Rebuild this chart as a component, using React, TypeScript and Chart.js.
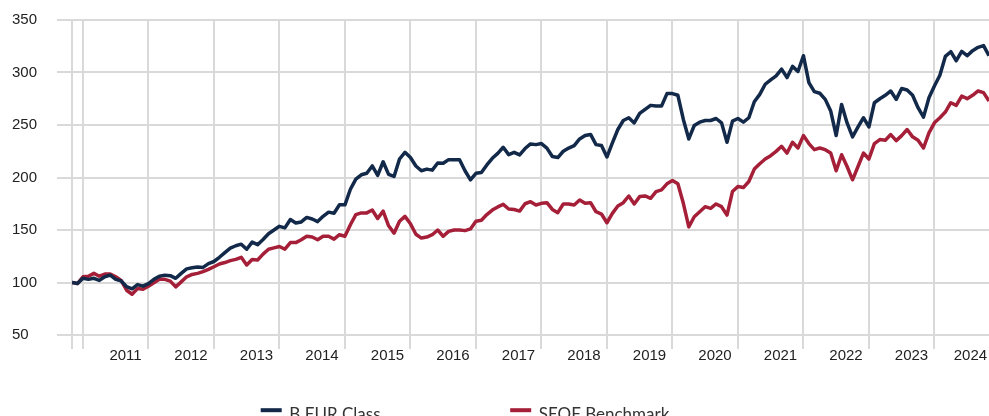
import React, { useEffect, useRef } from "react";
import { Chart, registerables } from "chart.js";

Chart.register(...registerables);

// Year labels on the x axis (gridline at January of each year)
const years = ["2011", "2012", "2013", "2014", "2015", "2016", "2017", "2018", "2019", "2020", "2021", "2022", "2023", "2024"];

// Y axis ticks
const yTicks = [50, 100, 150, 200, 250, 300, 350];

// Monthly values, Nov 2010 -> Nov 2024 (rebased to 100)
const bEurClass = [
  100, 99, 104, 103, 104, 102, 105.5, 107, 103, 101.5, 96, 94, 98, 96.5, 99, 103, 106, 107, 106.5, 104,
  108.7, 113, 114, 114.7, 114.4, 118, 120, 124, 128.5, 132.7, 135, 136.5, 131.7, 138.5, 136, 141, 146.5, 150, 153.5, 152,
  160, 156.7, 157.7, 162, 160.5, 158, 163, 167, 166, 174, 174, 188.8, 198.4, 202.6, 204, 211, 202, 215, 203, 201,
  217.6, 224, 219, 211, 206.4, 208, 207, 213.8, 213.5, 217, 217, 217, 206.4, 197.8, 204, 204.8, 212, 218.3, 223, 228.8,
  221.8, 224, 221.5, 227.6, 232, 231.3, 232.3, 228, 220, 219, 225, 228, 230.4, 236.7, 240, 241, 231.3, 230.4, 219.5, 232.9,
  245.7, 254.3, 256.9, 252, 261, 264.9, 268.7, 268, 268, 279.9, 279.9, 278.3, 255.3, 236.7, 249.5, 252.7, 254.3, 254.3, 256.2, 252,
  233.5, 253.7, 256.2, 252.7, 256.9, 272.2, 279.2, 288.8, 293, 296.8, 303.2, 295.2, 305.8, 301, 316, 290.4, 281.8, 280.2, 274.4, 263.3,
  240, 269.6, 252, 238.7, 248.2, 256.9, 248.2, 271.2, 275, 278.3, 282.4, 274.4, 284.7, 283.4, 278.3, 266.5, 257.5, 276, 287.2, 297.4,
  315.3, 319.8, 311.2, 320.1, 316, 320.8, 324, 325.6, 316,
];

const seofBenchmark = [
  100, 99, 105.4, 106, 108.7, 106, 108, 108, 105.4, 102, 92.6, 88.8, 94.2, 93.6, 96.5, 99.7, 103, 103, 101.3, 95.8,
  100.6, 105.4, 107.7, 108.7, 110.3, 112.5, 115, 117.6, 119, 120.8, 122, 124, 116.7, 122, 121.5, 127, 131.7, 133, 134.3, 131.7,
  138, 138, 140.7, 144, 143.3, 140.7, 144, 144, 141.3, 145.5, 144, 155, 164.7, 166.3, 166.3, 169, 161, 168, 154, 147,
  158.3, 163, 156, 146, 142.3, 143.3, 145.5, 150, 144, 148.7, 150, 150, 149.4, 151, 158.3, 159.3, 164.7, 169, 172, 174.4,
  170, 169.5, 168, 175, 177, 173.8, 175.4, 176, 169.6, 166.5, 174.8, 174.8, 173.8, 178.6, 175.4, 176, 167.4, 165.2, 156.9, 165.8,
  172.8, 176, 182.4, 174.8, 181.8, 182.4, 180.2, 186.6, 188.2, 194, 197.1, 194, 175.4, 153, 162.6, 167.4, 172.2, 170.6, 174.8, 172.2,
  164.2, 186.6, 191.4, 190.4, 196.2, 208, 213.1, 217.6, 220.8, 224.9, 229.7, 223.3, 233.5, 228.1, 239.9, 232.3, 226.5, 228.1, 226.5, 223.3,
  206.4, 221.7, 210.5, 197.8, 210.5, 223.3, 217.6, 232.3, 236.1, 235.5, 240.9, 235.1, 239.9, 245.7, 238.7, 235.5, 228.1, 242.5, 252.1, 256.9,
  262.3, 271.2, 268.7, 277.6, 275.1, 278.3, 282.4, 280.8, 272.8,
];

const seriesNames = ["B EUR Class", "SEOF Benchmark"];
const seriesColors = ["#12294a", "#a51f38"];

const GRID = "#d9d9d9";
const TEXT = "#222222";

const legendPlugin = {
  id: "bottomLegend",
  afterDraw(chart: any, _args: any, opts: any) {
    const ctx = chart.ctx;
    ctx.save();
    chart.data.datasets.forEach((ds: any, i: number) => {
      const x = opts.startX + i * opts.itemStep;
      ctx.fillStyle = ds.borderColor;
      ctx.fillRect(x, opts.markerY - 2, 21, 4);
      ctx.fillStyle = opts.color;
      ctx.font = "17px Lato";
      ctx.textAlign = "left";
      ctx.textBaseline = "alphabetic";
      ctx.fillText(ds.label, x + 28.6, opts.baselineY);
    });
    ctx.restore();
  },
};

export default function App() {
  const canvasRef = useRef<HTMLCanvasElement | null>(null);

  useEffect(() => {
    if (!canvasRef.current) return;
    const lastIdx = bEurClass.length - 1;
    const gridTicks = [0, ...years.map((_, k) => 2 + 12 * k)];
    const labelTicks = years.map((_, k) => Math.min(2 + 12 * k + 7.8, lastIdx - 3.4));

    const chart = new Chart(canvasRef.current, {
      type: "line",
      data: {
        datasets: [bEurClass, seofBenchmark].map((series, s) => ({
          label: seriesNames[s],
          data: series.map((v, i) => ({ x: i, y: v })),
          borderColor: seriesColors[s],
          backgroundColor: seriesColors[s],
          borderWidth: 3.5,
          pointRadius: 0,
          tension: 0,
          borderJoinStyle: "round" as const,
          xAxisID: "x",
          yAxisID: "y",
        })),
      },
      options: {
        animation: false,
        responsive: true,
        maintainAspectRatio: false,
        layout: { padding: { left: 12, right: 0, top: 20, bottom: 54 } },
        plugins: {
          legend: { display: false },
          tooltip: { enabled: false },
          bottomLegend: { startX: 260.7, itemStep: 249.5, markerY: 410.2, baselineY: 419.5, color: "#333333" },
        } as any,
        scales: {
          x: {
            type: "linear",
            position: "bottom",
            weight: 0,
            min: 0,
            max: lastIdx,
            afterBuildTicks: (axis: any) => {
              axis.ticks = gridTicks.map((v) => ({ value: v }));
            },
            ticks: { display: false },
            grid: { color: GRID, lineWidth: 2, drawTicks: true, tickLength: 14 },
            border: { display: false },
          },
          xLabels: {
            type: "linear",
            position: "bottom",
            weight: 1,
            min: 0,
            max: lastIdx,
            afterBuildTicks: (axis: any) => {
              axis.ticks = labelTicks.map((v) => ({ value: v }));
            },
            ticks: {
              autoSkip: false,
              maxRotation: 0,
              padding: -2.5,
              color: TEXT,
              font: { family: "'Liberation Sans', Arial, sans-serif", size: 15 },
              callback: (_v: any, index: number) => years[index],
            },
            grid: { display: false, drawTicks: false, tickLength: 0 },
            border: { display: false },
          },
          y: {
            type: "linear",
            min: 50,
            max: 350,
            afterBuildTicks: (axis: any) => {
              axis.ticks = yTicks.map((v) => ({ value: v }));
            },
            ticks: {
              padding: 10,
              crossAlign: "far",
              color: TEXT,
              font: { family: "'Liberation Sans', Arial, sans-serif", size: 15 },
            },
            grid: { color: GRID, lineWidth: 2, drawTicks: true, tickLength: 15 },
            border: { display: false },
          },
        },
      },
      plugins: [legendPlugin],
    });
    return () => chart.destroy();
  }, []);

  return (
    <div style={{ position: "fixed", left: 0, top: 0, width: 989, height: 416, overflow: "hidden", background: "#fff" }}>
      <canvas ref={canvasRef} />
    </div>
  );
}
